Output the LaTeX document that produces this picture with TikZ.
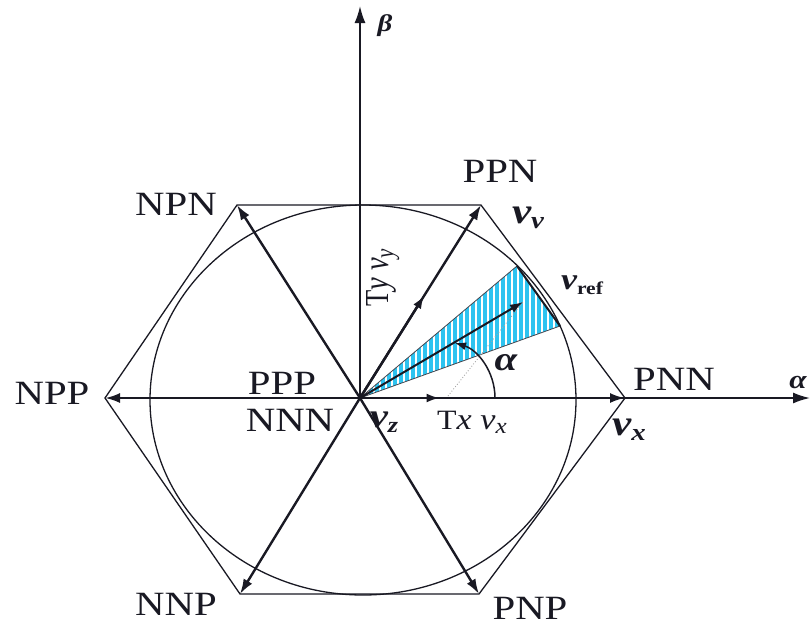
\documentclass[tikz,border=0pt]{standalone}
\usepackage{fontspec}
\setmainfont{Liberation Serif}
\usetikzlibrary{arrows.meta,calc}
\definecolor{wedgeblue}{RGB}{45,195,240}
\definecolor{ink}{RGB}{25,25,35}
\begin{document}
\begin{tikzpicture}[x=1pt,y=-1pt,
  lbl/.style={inner sep=0pt, xscale=1.2, text=ink, font=\fontsize{34}{34}\selectfont},
  vec/.style={draw=ink, line width=2.4pt, -{Latex[length=15pt,width=10pt]}},
  hexedge/.style={draw=ink, line width=1.3pt},
  axisline/.style={draw=ink, line width=1.7pt, -{Latex[length=17pt,width=11pt]}},
  midarr/.style={draw=ink, line width=2.4pt, -{Latex[length=13pt,width=9pt]}},
]
\useasboundingbox (0,0) rectangle (811,630);
\coordinate (O) at (360,398);
\coordinate (NPN) at (237,205);
\coordinate (PPN) at (481,205);
\coordinate (NPP) at (105,398);
\coordinate (PNN) at (625,398);
\coordinate (NNP) at (240,594);
\coordinate (PNP) at (479,594);
\coordinate (Ytop) at (360,6);
\coordinate (Xend) at (810,398);
\coordinate (C) at (363,400);
\coordinate (W1) at (517,266);
\coordinate (W2) at (560,326);
\coordinate (Vref) at (523,302);
\coordinate (Dt) at (448,396);
\coordinate (A0) at (495,398);
\coordinate (A1) at (455,343);

% shaded sector
\begin{scope}
\clip (O) -- (W1) -- (W2) -- cycle;
\fill[wedgeblue] (O) -- (W1) -- (W2) -- cycle;
\foreach \x in {362,368,...,566} \draw[white, line width=2pt] (\x,250) -- (\x,402);
\end{scope}
\draw[ink!80, line width=0.8pt] (O) -- (W1) -- (W2) -- cycle;

% circle and hexagon
\draw[hexedge] (C) ellipse [x radius=213pt, y radius=195pt];
\draw[hexedge] (NPN) -- (PPN) -- (PNN) -- (PNP) -- (NNP) -- (NPP) -- cycle;
\draw[ink, line width=2pt] (W1) -- (W2);

% axes
\draw[axisline] (O) -- (Ytop);
\draw[axisline] (O) -- (Xend);

% vectors
\foreach \v in {NPN,PPN,NPP,PNN,NNP,PNP} \draw[vec] (O) -- (\v);
\draw[midarr] (O) -- ($(O)!0.53!(PPN)$);
\draw[midarr] (O) -- ($(O)!0.3!(PNN)$);
\draw[gray!70, dotted, line width=0.9pt] (Dt) -- (Vref);
\draw[ink, line width=2pt, -{Latex[length=13pt,width=9pt]}] (O) -- (Vref);
\draw[ink, line width=1.5pt, -{Latex[length=11pt,width=8pt]}] (A0) .. controls (495,372) and (478,350) .. (A1);

% state labels
\node[lbl] (lNPN) at (176,204) {NPN};
\node[lbl] (lPPN) at (500,171) {PPN};
\node[lbl] (lNPP) at (52,393) {NPP};
\node[lbl] (lPPP) at (282,383) {PPP};
\node[lbl] (lNNN) at (290,420) {NNN};
\node[lbl] (lPNN) at (674,379) {PNN};
\node[lbl] (lNNP) at (176,604) {NNP};
\node[lbl] (lPNP) at (530,608) {PNP};

% vector labels
\node[lbl] (lvv) at (528,218) {\fontsize{36}{36}\selectfont\bfseries\itshape v\raisebox{-0.3ex}{\fontsize{24}{24}\selectfont v}};
\node[lbl] (lvx) at (629,430) {\fontsize{36}{36}\selectfont\bfseries\itshape v\raisebox{-0.3ex}{\fontsize{24}{24}\selectfont x}};
\node[lbl] (lvz) at (384,422) {\fontsize{34}{34}\selectfont\bfseries\itshape v\raisebox{-0.3ex}{\fontsize{22}{22}\selectfont z}};
\node[lbl] (lvref) at (582,285) {\fontsize{30}{30}\selectfont\bfseries\itshape v\raisebox{-0.35ex}{\fontsize{18}{18}\selectfont\upshape ref}};
\node[lbl, xscale=0.95] (lTx) at (472,422) {\fontsize{28}{28}\selectfont T\fontsize{30}{30}\selectfont\itshape x v\raisebox{-0.3ex}{\fontsize{22}{22}\selectfont x}};
\node[lbl, rotate=90, xscale=0.95] (lTy) at (383,278) {\fontsize{28}{28}\selectfont T\fontsize{30}{30}\selectfont\itshape y v\raisebox{-0.3ex}{\fontsize{22}{22}\selectfont y}};

% angle and axis labels
\node[lbl] (lalpha) at (506,363) {\fontsize{34}{34}\selectfont\bfseries\itshape α};
\node[lbl] (lbeta) at (385,26) {\fontsize{24}{24}\selectfont\bfseries\itshape β};
\node[lbl] (lalphax) at (798,382) {\fontsize{26}{26}\selectfont\bfseries\itshape α};
\end{tikzpicture}
\end{document}
